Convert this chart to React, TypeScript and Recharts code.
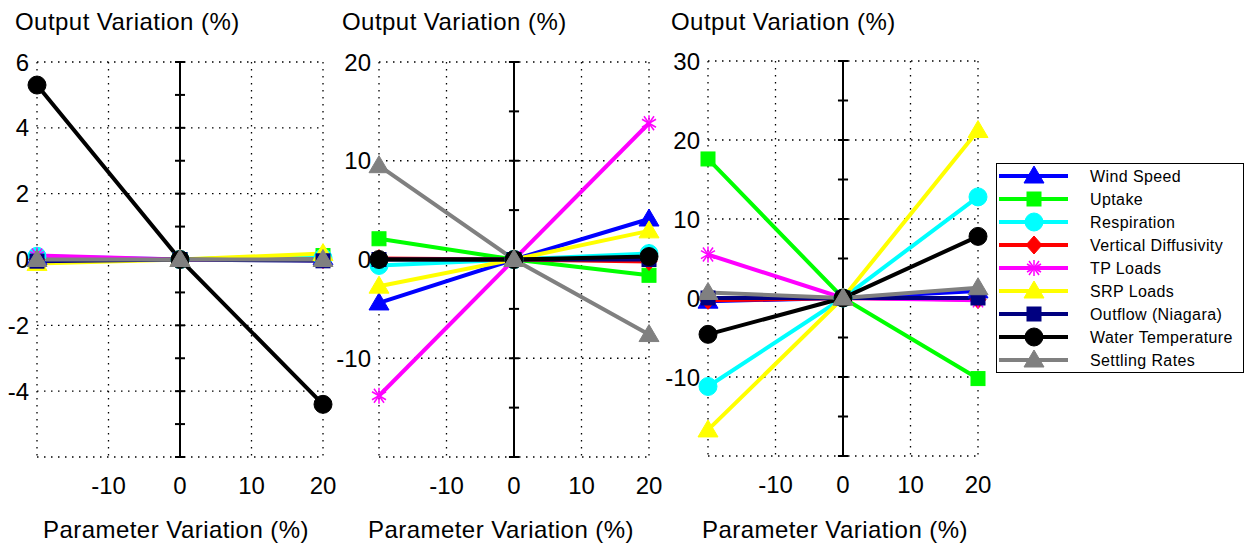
import React from 'react';
import { LineChart, Line, XAxis, YAxis, CartesianGrid, ReferenceLine } from 'recharts';

const FONT = '"Liberation Sans", Arial, sans-serif';

// x positions (parameter variation, %)
const PARAM_VARIATION = [-20, 0, 20];
const X_TICKS = [-20, -10, 0, 10, 20];

const SERIES_NAMES = [
  'Wind Speed',
  'Uptake',
  'Respiration',
  'Vertical Diffusivity',
  'TP Loads',
  'SRP Loads',
  'Outflow (Niagara)',
  'Water Temperature',
  'Settling Rates',
];
const SERIES_KEYS = ['wind', 'uptake', 'resp', 'diff', 'tp', 'srp', 'outflow', 'temp', 'settling'];

// output variation (%) at -20, 0, +20, one row per series (same order as SERIES_NAMES)
const PANEL1_VALUES = [
  [0.05, 0, 0.05],
  [0, 0, 0.12],
  [0.1, 0, 0.05],
  [0, 0, 0],
  [0.12, 0, -0.02],
  [-0.12, 0, 0.18],
  [-0.05, 0, -0.04],
  [5.3, 0, -4.4],
  [0, 0, 0],
];
const PANEL2_VALUES = [
  [-4.4, 0, 4.1],
  [2.1, 0, -1.6],
  [-0.6, 0, 0.6],
  [0.1, 0, -0.2],
  [-13.8, 0, 13.8],
  [-2.7, 0, 2.9],
  [0, 0, 0],
  [0, 0, 0.3],
  [9.5, 0, -7.6],
];
const PANEL3_VALUES = [
  [-0.4, 0, 0.9],
  [17.6, 0, -10.2],
  [-11.2, 0, 12.8],
  [-0.3, 0, -0.2],
  [5.5, 0, -0.3],
  [-16.7, 0, 21.2],
  [0, 0, 0],
  [-4.6, 0, 7.8],
  [0.7, 0, 1.3],
];

const PANEL1_Y_TICKS = [-6, -4, -2, 0, 2, 4, 6];
const PANEL1_MINOR = [-6, -5, -4, -3, -2, -1, 0, 1, 2, 3, 4, 5, 6];
const PANEL2_Y_TICKS = [-20, -10, 0, 10, 20];
const PANEL2_MINOR = [-20, -15, -10, -5, 0, 5, 10, 15, 20];
const PANEL3_Y_TICKS = [-20, -10, 0, 10, 20, 30];
const PANEL3_MINOR = [-20, -15, -10, -5, 0, 5, 10, 15, 20, 25, 30];

const SERIES_STYLE = [
  { color: '#0000ff', marker: 'triangle' },
  { color: '#00ff00', marker: 'square' },
  { color: '#00ffff', marker: 'circle' },
  { color: '#ff0000', marker: 'diamond' },
  { color: '#ff00ff', marker: 'star' },
  { color: '#ffff00', marker: 'triangle' },
  { color: '#000080', marker: 'square' },
  { color: '#000000', marker: 'circle' },
  { color: '#808080', marker: 'triangle' },
];

const buildRows = (values: number[][]) =>
  PARAM_VARIATION.map((x, i) => {
    const row: Record<string, number> = { x };
    SERIES_KEYS.forEach((k, s) => {
      row[k] = values[s][i];
    });
    return row;
  });

function Marker({ cx, cy, type, color }: { cx: number; cy: number; type: string; color: string }) {
  if (cx == null || cy == null) return null;
  switch (type) {
    case 'triangle':
      return <polygon points={`${cx},${cy - 10} ${cx - 10},${cy + 7} ${cx + 10},${cy + 7}`} fill={color} stroke={color} />;
    case 'square':
      return <rect x={cx - 7} y={cy - 7} width={14} height={14} fill={color} stroke={color} />;
    case 'circle':
      return <circle cx={cx} cy={cy} r={9} fill={color} stroke={color} />;
    case 'diamond':
      return <polygon points={`${cx},${cy - 9} ${cx + 8},${cy} ${cx},${cy + 9} ${cx - 8},${cy}`} fill={color} stroke={color} />;
    case 'star':
      return (
        <g stroke={color} strokeWidth={1.5}>
          <line x1={cx} y1={cy - 8} x2={cx} y2={cy + 8} />
          <line x1={cx - 7} y1={cy - 4} x2={cx + 7} y2={cy + 4} />
          <line x1={cx - 7} y1={cy + 4} x2={cx + 7} y2={cy - 4} />
          <line x1={cx - 5} y1={cy - 7} x2={cx + 5} y2={cy + 7} />
          <line x1={cx - 5} y1={cy + 7} x2={cx + 5} y2={cy - 7} />
        </g>
      );
    default:
      return null;
  }
}

const tickStyle = { fill: '#000', fontSize: 24, fontFamily: FONT };

type PanelProps = {
  left: number;
  top: number;
  yAxisWidth: number;
  rightMargin: number;
  bottom: number;
  values: number[][];
  yTicks: number[];
  minorTicks: number[];
  tickHalf: number;
};

function Panel({ left, top, yAxisWidth, rightMargin, bottom, values, yTicks, minorTicks, tickHalf }: PanelProps) {
  const data = buildRows(values);
  const yMin = yTicks[0];
  const yMax = yTicks[yTicks.length - 1];
  return (
    <div style={{ position: 'absolute', left, top: 0 }}>
      <LineChart
        width={340}
        height={550}
        data={data}
        margin={{ top, right: rightMargin, bottom: 550 - bottom - 40, left: 0 }}
      >
        <CartesianGrid stroke="#000" strokeWidth={1.3} strokeDasharray="1.5 5.5" />
        <XAxis
          dataKey="x"
          type="number"
          domain={[-20, 20]}
          ticks={X_TICKS}
          interval={0}
          height={40}
          axisLine={false}
          tickLine={false}
          tickMargin={14}
          tick={tickStyle}
          tickFormatter={(v: number) => (v === -20 ? '' : String(v))}
        />
        <YAxis
          type="number"
          domain={[yMin, yMax]}
          ticks={yTicks}
          interval={0}
          width={yAxisWidth}
          axisLine={false}
          tickLine={false}
          tick={tickStyle}
          tickFormatter={(v: number) => (v === yMin ? '' : String(v))}
        />
        <ReferenceLine x={0} stroke="#000" strokeWidth={2} />
        {minorTicks.map((t) => (
          <ReferenceLine
            key={`mt-${t}`}
            segment={[
              { x: -tickHalf, y: t },
              { x: tickHalf, y: t },
            ]}
            stroke="#000"
            strokeWidth={2}
          />
        ))}
        {SERIES_KEYS.map((k, s) => (
          <Line
            key={k}
            type="linear"
            dataKey={k}
            stroke={SERIES_STYLE[s].color}
            strokeWidth={4}
            isAnimationActive={false}
            dot={(p: any) => (
              <Marker
                key={`${k}-${p.index}`}
                cx={p.cx}
                cy={p.cy}
                type={SERIES_STYLE[s].marker}
                color={SERIES_STYLE[s].color}
              />
            )}
            activeDot={false}
          />
        ))}
      </LineChart>
    </div>
  );
}

function LegendBox() {
  const rowGap = 23;
  return (
    <div
      style={{
        position: 'absolute',
        left: 996,
        top: 163,
        width: 248,
        height: 210,
        border: '1.5px solid #000',
        boxSizing: 'border-box',
        background: '#fff',
      }}
    >
      <svg width={248} height={210} style={{ position: 'absolute', left: 0, top: 0 }}>
        {SERIES_NAMES.map((name, i) => {
          const y = 12 + i * rowGap;
          const st = SERIES_STYLE[i];
          return (
            <g key={name}>
              <line x1={2} y1={y} x2={71} y2={y} stroke={st.color} strokeWidth={4} />
              <Marker cx={37} cy={y} type={st.marker} color={st.color} />
              <text
                x={93}
                y={y}
                dy="0.35em"
                fontSize={16}
                fontFamily={FONT}
                letterSpacing={0.4}
                fill="#000"
              >
                {name}
              </text>
            </g>
          );
        })}
      </svg>
    </div>
  );
}

const titleStyle: React.CSSProperties = {
  position: 'absolute',
  fontFamily: FONT,
  fontSize: 24,
  letterSpacing: 0.45,
  color: '#000',
  whiteSpace: 'nowrap',
};

export default function App() {
  return (
    <div
      style={{
        position: 'absolute',
        left: 0,
        top: 0,
        width: 1251,
        height: 550,
        background: '#fff',
        overflow: 'hidden',
      }}
    >
      <Panel left={0} top={62} yAxisWidth={37} rightMargin={17} bottom={457} values={PANEL1_VALUES} yTicks={PANEL1_Y_TICKS} minorTicks={PANEL1_MINOR} tickHalf={0.7} />
      <Panel left={330} top={62} yAxisWidth={49} rightMargin={21} bottom={457} values={PANEL2_VALUES} yTicks={PANEL2_Y_TICKS} minorTicks={PANEL2_MINOR} tickHalf={0.75} />
      <Panel left={660} top={61} yAxisWidth={48} rightMargin={22} bottom={456} values={PANEL3_VALUES} yTicks={PANEL3_Y_TICKS} minorTicks={PANEL3_MINOR} tickHalf={0.75} />

      <div style={{ ...titleStyle, left: 15, top: 8 }}>Output Variation (%)</div>
      <div style={{ ...titleStyle, left: 342, top: 8 }}>Output Variation (%)</div>
      <div style={{ ...titleStyle, left: 671, top: 8 }}>Output Variation (%)</div>

      <div style={{ ...titleStyle, left: 43, top: 516 }}>Parameter Variation (%)</div>
      <div style={{ ...titleStyle, left: 368, top: 516 }}>Parameter Variation (%)</div>
      <div style={{ ...titleStyle, left: 702, top: 516 }}>Parameter Variation (%)</div>

      <LegendBox />
    </div>
  );
}
